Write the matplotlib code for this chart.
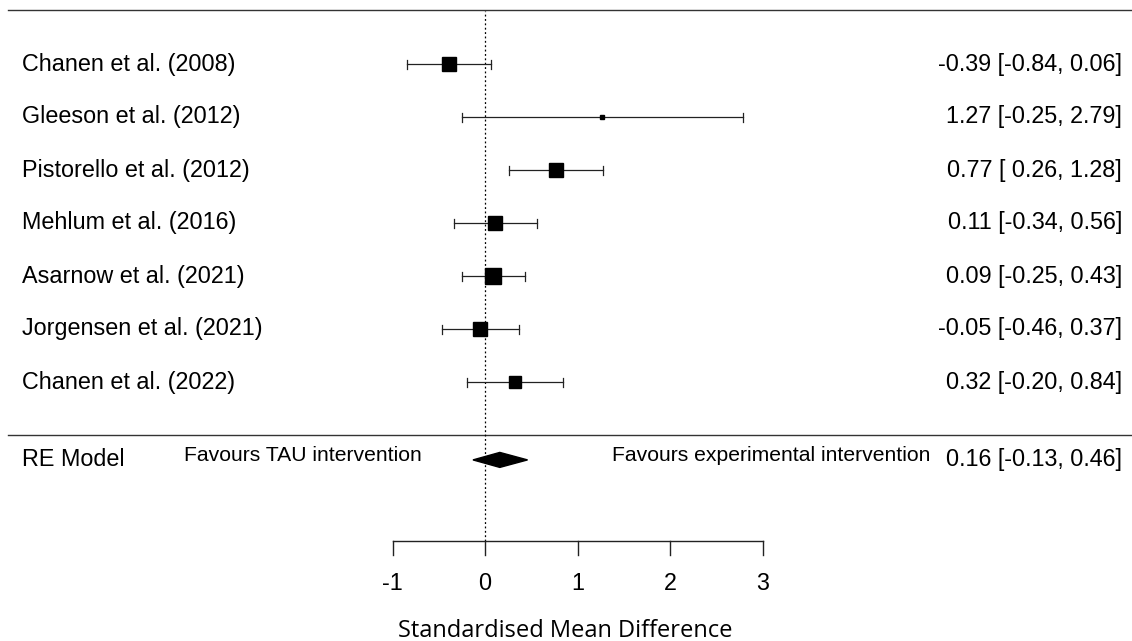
import matplotlib.pyplot as plt
from matplotlib.patches import Polygon

# Study data
studies = ['Chanen et al. (2008)', 'Gleeson et al. (2012)', 'Pistorello et al. (2012)',
           'Mehlum et al. (2016)', 'Asarnow et al. (2021)', 'Jorgensen et al. (2021)',
           'Chanen et al. (2022)']
smd = [-0.39, 1.27, 0.77, 0.11, 0.09, -0.05, 0.32]
ci_low = [-0.84, -0.25, 0.26, -0.34, -0.25, -0.46, -0.20]
ci_high = [0.06, 2.79, 1.28, 0.56, 0.43, 0.37, 0.84]
ci_text = ['-0.39 [-0.84, 0.06]', '1.27 [-0.25, 2.79]', '0.77 [ 0.26, 1.28]',
           '0.11 [-0.34, 0.56]', '0.09 [-0.25, 0.43]', '-0.05 [-0.46, 0.37]',
           '0.32 [-0.20, 0.84]']

# Pooled estimate
re_est = 0.16
re_low = -0.13
re_high = 0.46
re_text = '0.16 [-0.13, 0.46]'

xticks = [-1, 0, 1, 2, 3]

# marker side length in points (relative study weights)
marker_pts = [10, 3.5, 9.5, 10, 11.5, 10.5, 9]

fig = plt.figure(figsize=(11.32, 6.41), dpi=100)
ax = fig.add_axes([0, 0, 1, 1])
ax.axis('off')

px = 92.5   # pixels per unit on x
row_px = 53.0
ax.set_xlim(-485 / px, (1132 - 485) / px)
ax.set_ylim(1 - (641 - 382) / row_px, 1 + 382 / row_px)

font = 'Liberation Sans'
fs = 16.8
rows = list(range(len(studies), 0, -1))
left_x = (22 - 485) / px
right_x = (1122 - 485) / px
cap = 4.5 / row_px
lc = '#222222'

# horizontal rules
ax.plot([(8 - 485) / px, 6.99], [8.02, 8.02], color='#333333', lw=1.0)
ax.plot([(8 - 485) / px, 6.99], [0.0, 0.0], color='#333333', lw=1.0)

# reference line at zero
ax.plot([0, 0], [-2.0, 8.0], color='black', lw=0.9, ls=(0, (1.5, 2)))

for y, name, m, lo, hi, t, ms in zip(rows, studies, smd, ci_low, ci_high, ci_text, marker_pts):
    ax.plot([lo, hi], [y, y], color=lc, lw=0.9)
    ax.plot([lo, lo], [y - cap, y + cap], color=lc, lw=0.9)
    ax.plot([hi, hi], [y - cap, y + cap], color=lc, lw=0.9)
    ax.plot(m, y, marker='s', color='black', markersize=ms, zorder=3)
    ax.text(left_x, y, name, ha='left', va='center', fontsize=fs, family=font)
    ax.text(right_x, y, t, ha='right', va='center', fontsize=fs, family=font)

# summary diamond
re_y = -0.47
dh = 7.5 / row_px
ax.add_patch(Polygon([[re_low, re_y], [re_est, re_y + dh], [re_high, re_y], [re_est, re_y - dh]],
                     closed=True, color='black'))
ax.text(left_x, re_y, 'RE Model', ha='left', va='center', fontsize=fs, family=font)
ax.text(right_x, re_y, re_text, ha='right', va='center', fontsize=fs, family=font)

fav_y = 1 - (461 - 382) / row_px
ax.text(-1.97, fav_y, 'Favours TAU intervention', ha='center', va='baseline',
        fontsize=15.2, family=font)
ax.text(3.09, fav_y, 'Favours experimental intervention', ha='center', va='baseline',
        fontsize=15.2, family=font)

# x axis
ax_y = -2.0
ax.plot([xticks[0], xticks[-1]], [ax_y, ax_y], color=lc, lw=1.0)
for t in xticks:
    ax.plot([t, t], [ax_y, ax_y - 14 / row_px], color=lc, lw=1.0)
    ax.text(t, -2.81, str(t), ha='center', va='center', fontsize=fs, family=font)
ax.text(0.865, -3.70, 'Standardised Mean Difference', ha='center', va='center',
        fontsize=17, family='Open Sans')

fig.savefig('out.png', dpi=100)
